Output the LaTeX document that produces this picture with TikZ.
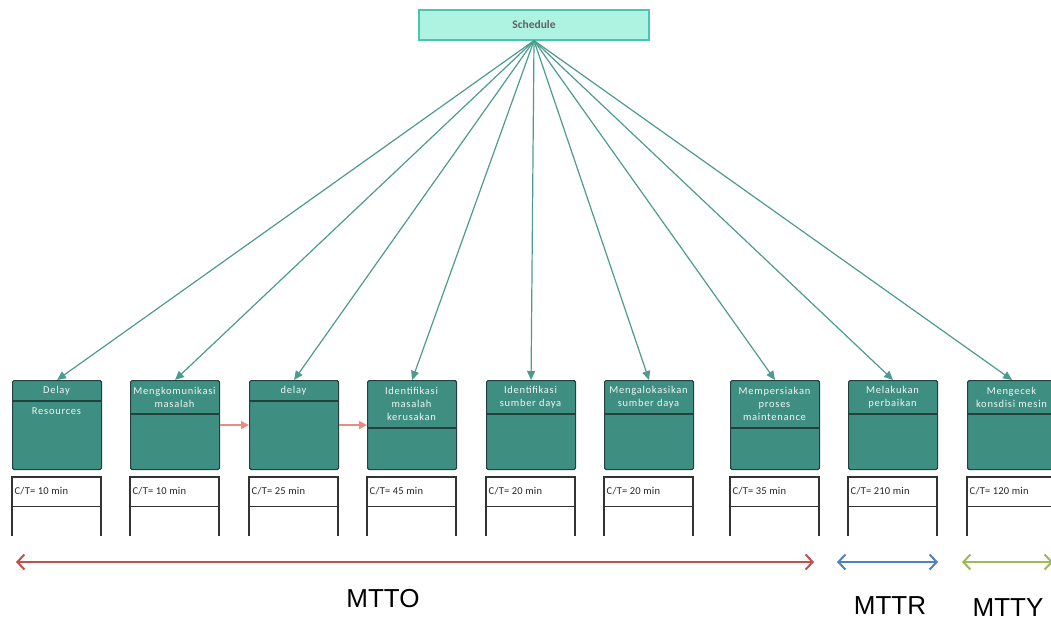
\documentclass[tikz,border=0pt]{standalone}
\usepackage{fontspec}
\setmainfont{Carlito}
\newfontfamily\boxfont[LetterSpace=7]{Carlito}
\newfontfamily\ctfont[LetterSpace=2]{Carlito}
\newfontfamily\bigfont{Liberation Sans}
\usetikzlibrary{arrows.meta}

\definecolor{procfill}{HTML}{3F8E82}
\definecolor{procedge}{HTML}{24403C}
\definecolor{schedfill}{HTML}{AEF2E2}
\definecolor{schededge}{HTML}{4CC4B3}
\definecolor{linkteal}{HTML}{4C9B8F}
\definecolor{flowred}{HTML}{EB8A82}
\definecolor{spanred}{HTML}{C0504D}
\definecolor{spanblue}{HTML}{4F81BD}
\definecolor{spangreen}{HTML}{9BBB59}

\tikzset{
  schedbox/.style={draw=schededge, fill=schedfill, line width=1.2pt,
    minimum width=230pt, minimum height=30pt, inner sep=0pt,
    font=\fontsize{11.5}{12}\selectfont\bfseries, text=black!62},
  procbox/.style={draw=procedge, fill=procfill, line width=1.1pt, rounded corners=1.5pt,
    minimum width=89pt, minimum height=89pt, inner sep=0pt, anchor=north west},
  procline/.style={draw=procedge, line width=1.1pt},
  hdr/.style={align=center, text=white!92!procfill, inner sep=0pt,
    font=\boxfont\fontsize{10.5}{13}\selectfont},
  databox/.style={draw=black!80, line width=1.3pt},
  ctlabel/.style={anchor=west, inner sep=0pt, text=black!85, font=\ctfont\fontsize{10.5}{12}\selectfont},
  schedlink/.style={draw=linkteal, line width=1.2pt, -{Triangle[length=9pt,width=8pt]}},
  flowlink/.style={draw=flowred, line width=1.6pt, -{Triangle[length=8pt,width=8pt]}},
  span/.style={line width=2pt, {Straight Barb[length=7pt,width=15pt]}-{Straight Barb[length=7pt,width=15pt]}},
  spanlabel/.style={inner sep=0pt, font=\bigfont\fontsize{26}{28}\selectfont, text=black}
}

\begin{document}
\begin{tikzpicture}[x=1pt,y=-1pt]
\useasboundingbox (0,0) rectangle (1051,621);
\clip (0,0) rectangle (1051,621);

% top node
\node[schedbox] (sch) at (534,25) {Schedule};

% process boxes: index / left x / divider y / header text / cycle time
\foreach \i/\x/\d/\t/\ct in {
  1/12/401/{Delay}/10,
  2/130/414/{Mengkomunikasi\\masalah}/10,
  3/249/401/{delay}/25,
  4/367/428/{Identifikasi\\masalah\\kerusakan}/45,
  5/486/414/{Identifikasi\\sumber daya}/20,
  6/604/414/{Mengalokasikan\\sumber daya}/20,
  7/730/428/{Mempersiakan\\proses\\maintenance}/35,
  8/848/414/{Melakukan\\perbaikan}/210,
  9/967/414/{Mengecek\\konsdisi mesin}/120}
{
  \node[procbox] (p\i) at (\x,380) {};
  \draw[procline] (\x,\d) -- ({\x+89},\d);
  \node[hdr] (h\i) at ({\x+44.5},{(380+\d)/2}) {\t};
  % cycle-time box, open at the bottom
  \coordinate (c\i) at (\x,477);
  \draw[databox] (\x,536) -- (c\i) -- ({\x+89},477) -- ({\x+89},536);
  \draw[databox] (\x,506.5) -- ({\x+89},506.5);
  \node[ctlabel] (t\i) at ({\x+2.5},491.5) {C/T= \ct\ min};
  \draw[schedlink] (sch.south) -- (p\i.north);
}

\node[hdr] (r1) at (56.5,411) {Resources};

% flow between steps
\draw[flowlink] (p2.east) -- (p3.west);
\draw[flowlink] (p3.east) -- (p4.west);

% time spans
\coordinate (oL) at (16,562);
\coordinate (oR) at (814,562);
\coordinate (rL) at (837,562);
\coordinate (rR) at (938,562);
\coordinate (yL) at (962,562);
\coordinate (yR) at (1053,562);
\draw[span, spanred] (oL) -- (oR);
\draw[span, spanblue] (rL) -- (rR);
\draw[span, spangreen] (yL) -- (yR);

\node[spanlabel] (lo) at (383,599) {MTTO};
\node[spanlabel] (lr) at (890,606) {MTTR};
\node[spanlabel] (ly) at (1008,608) {MTTY};
\end{tikzpicture}
\end{document}
